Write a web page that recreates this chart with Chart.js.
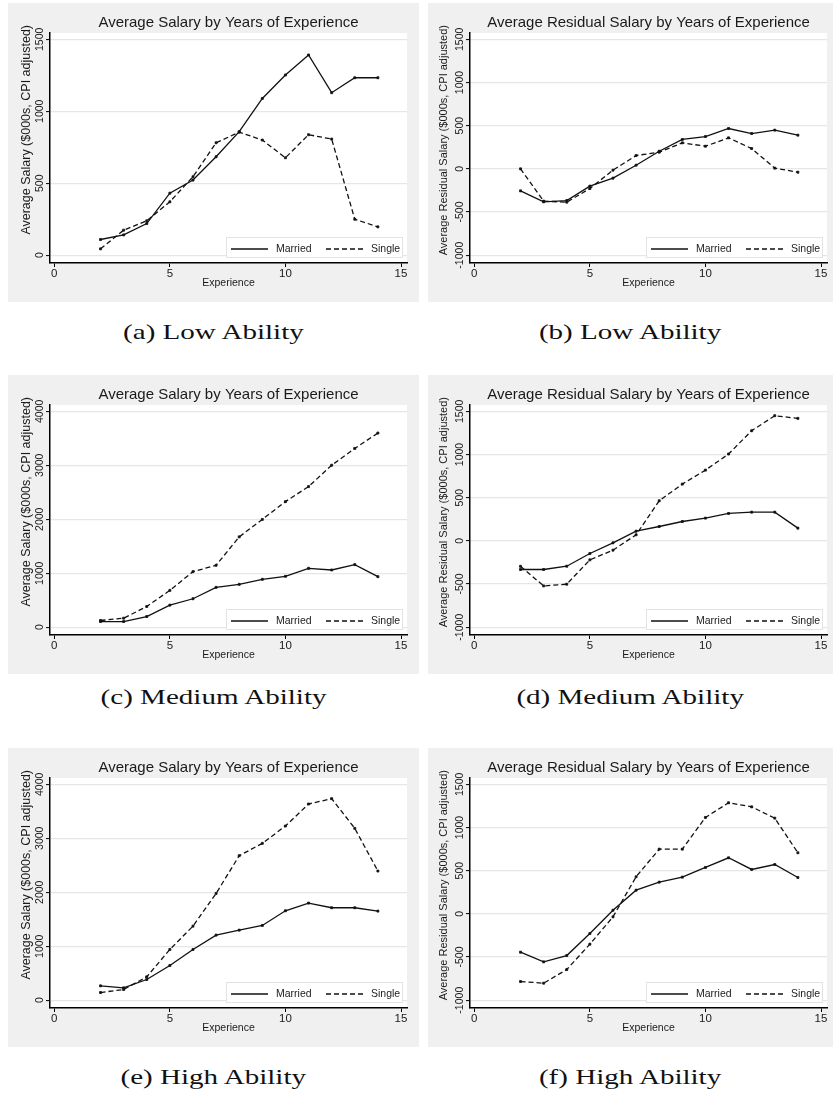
<!DOCTYPE html>
<html>
<head>
<meta charset="utf-8">
<script src="https://cdn.jsdelivr.net/npm/chart.js@4.4.1/dist/chart.umd.min.js"></script>
<style>
  body { margin: 0; background: #fff; width: 833px; height: 1093px; position: relative; overflow: hidden; }
  .panel { position: absolute; background: #f0f0f0; height: 299px; }
  .panel canvas { display: block; }
  .caption { position: absolute; height: 26px; line-height: 26px; text-align: center; white-space: nowrap;
             font-family: "Liberation Serif", "DejaVu Serif", serif; font-size: 22px; color: #111; }
  .caption span { display: inline-block; transform: scaleX(1.32); }
</style>
</head>
<body>

<div class="panel" style="left:8px;top:3px;width:411px"><canvas id="chartA" width="411" height="299"></canvas></div>
<div class="panel" style="left:428px;top:3px;width:405px"><canvas id="chartB" width="405" height="299"></canvas></div>
<div class="panel" style="left:8px;top:375px;width:411px"><canvas id="chartC" width="411" height="299"></canvas></div>
<div class="panel" style="left:428px;top:375px;width:405px"><canvas id="chartD" width="405" height="299"></canvas></div>
<div class="panel" style="left:8px;top:748px;width:411px"><canvas id="chartE" width="411" height="299"></canvas></div>
<div class="panel" style="left:428px;top:748px;width:405px"><canvas id="chartF" width="405" height="299"></canvas></div>

<div class="caption" style="left:8px;top:319px;width:411px"><span>(a) Low Ability</span></div>
<div class="caption" style="left:428px;top:319px;width:405px"><span>(b) Low Ability</span></div>
<div class="caption" style="left:8px;top:684px;width:411px"><span>(c) Medium Ability</span></div>
<div class="caption" style="left:428px;top:684px;width:405px"><span>(d) Medium Ability</span></div>
<div class="caption" style="left:8px;top:1064px;width:411px"><span>(e) High Ability</span></div>
<div class="caption" style="left:428px;top:1064px;width:405px"><span>(f) High Ability</span></div>

<script>
// --- data ---
const experience = [2, 3, 4, 5, 6, 7, 8, 9, 10, 11, 12, 13, 14];
const xTicks = [0, 5, 10, 15];
const seriesLabels = ['Married', 'Single'];

// (a) low ability, salary
const lowSalaryMarried = [109, 141, 220, 431, 522, 684, 858, 1089, 1252, 1391, 1129, 1233, 1233];
const lowSalarySingle  = [44, 174, 239, 371, 545, 781, 855, 800, 677, 837, 807, 250, 197];
// (b) low ability, residual salary
const lowResidMarried = [-255, -382, -367, -200, -108, 42, 204, 340, 374, 467, 409, 448, 390];
const lowResidSingle  = [0, -374, -386, -228, -15, 154, 193, 301, 262, 359, 235, 8, -39];
// (c) medium ability, salary
const medSalaryMarried = [105, 105, 198, 409, 527, 738, 794, 887, 943, 1091, 1060, 1160, 936];
const medSalarySingle  = [124, 167, 384, 682, 1029, 1147, 1674, 1997, 2326, 2605, 3001, 3312, 3597];
// (d) medium ability, residual salary
const medResidMarried = [-332, -332, -294, -147, -23, 112, 166, 224, 263, 317, 332, 332, 147];
const medResidSingle  = [-295, -522, -502, -220, -108, 70, 464, 657, 819, 1005, 1275, 1449, 1418];
// (e) high ability, salary
const highSalaryMarried = [266, 229, 383, 643, 940, 1206, 1298, 1385, 1657, 1799, 1713, 1713, 1651];
const highSalarySingle  = [142, 198, 433, 940, 1372, 1978, 2677, 2906, 3227, 3635, 3734, 3184, 2393];
// (f) high ability, residual salary
const highResidMarried = [-444, -556, -483, -228, 42, 274, 367, 425, 537, 649, 514, 571, 421];
const highResidSingle  = [-784, -803, -645, -351, -35, 429, 749, 749, 1116, 1286, 1239, 1108, 707];

const salaryTicksLow  = [0, 500, 1000, 1500];
const salaryTicksHigh = [0, 1000, 2000, 3000, 4000];
const residTicks      = [-1000, -500, 0, 500, 1000, 1500];

const titleSalary  = 'Average Salary by Years of Experience';
const titleResid   = 'Average Residual Salary by Years of Experience';
const yTitleSalary = 'Average Salary ($000s, CPI adjusted)';
const yTitleResid  = 'Average Residual Salary ($000s, CPI adjusted)';

// --- styling ---
const FONT = '"Liberation Sans", Arial, sans-serif';
const TEXT = '#1a1a1a';
const Y_TICK_SIZE = 10.5;

// white plot region like Stata's
const plotBg = {
  id: 'plotBg',
  beforeDraw(chart) {
    const { ctx, chartArea: a } = chart;
    ctx.save();
    ctx.fillStyle = '#fff';
    ctx.fillRect(a.left, a.top, a.right - a.left, a.bottom - a.top);
    ctx.restore();
  }
};

// legend box sitting inside the plot, bottom right
const boxLegend = {
  id: 'boxLegend',
  afterDatasetsDraw(chart) {
    const { ctx, chartArea: a } = chart;
    const w = 177, h = 21;
    const x = a.right - 4 - w, y = a.bottom - 5 - h;
    ctx.save();
    ctx.fillStyle = '#fff';
    ctx.fillRect(x, y, w, h);
    ctx.strokeStyle = '#e3e3e3';
    ctx.lineWidth = 1;
    ctx.strokeRect(x + 0.5, y + 0.5, w - 1, h - 1);
    const cy = y + 12;
    ctx.font = '10.5px ' + FONT;
    ctx.fillStyle = TEXT;
    ctx.textBaseline = 'middle';
    chart.data.datasets.forEach((ds, i) => {
      const lx = x + 5 + i * 95;
      ctx.setLineDash(ds.borderDash || []);
      ctx.strokeStyle = ds.borderColor;
      ctx.lineWidth = ds.borderWidth;
      ctx.beginPath();
      ctx.moveTo(lx, cy);
      ctx.lineTo(lx + 37, cy);
      ctx.stroke();
      ctx.setLineDash([]);
      ctx.fillText(ds.label, lx + 45, cy);
    });
    ctx.restore();
  }
};

// Stata puts the y title flush with the top of the plot, not centred on it
const yTitle = {
  id: 'yTitle',
  afterDraw(chart, args, opts) {
    const { ctx, chartArea: a } = chart;
    ctx.save();
    ctx.translate(opts.x, a.top - 8);
    ctx.rotate(-Math.PI / 2);
    ctx.font = opts.size + 'px ' + FONT;
    ctx.fillStyle = TEXT;
    ctx.textAlign = 'right';
    ctx.textBaseline = 'middle';
    ctx.fillText(opts.text, 0, 0);
    ctx.restore();
  }
};

// padding that puts the rotated y labels ~10px left of the axis
function yTickPad(ticks) {
  const c = document.createElement('canvas').getContext('2d');
  c.font = Y_TICK_SIZE + 'px ' + FONT;
  const widest = Math.max(...ticks.map(t => c.measureText(String(t)).width));
  return 6 - widest / 2;
}

function series(label, xs, ys, dash) {
  return {
    label: label,
    data: xs.map((x, i) => ({ x: x, y: ys[i] })),
    borderColor: '#111',
    borderWidth: 1.3,
    borderDash: dash,
    tension: 0,
    pointStyle: 'rect',
    pointRadius: 1.4,
    pointBorderWidth: 0.8,
    pointBackgroundColor: '#111',
    pointBorderColor: '#111'
  };
}

function makeChart(id, width, title, yTitleText, yTitleSize, yTitleX, yTicks, married, single) {
  const lo = yTicks[0], hi = yTicks[yTicks.length - 1];
  const perPx = (hi - lo) / 215.9;
  const perPxX = 15 / 346.7;
  return new Chart(document.getElementById(id), {
    type: 'line',
    data: {
      datasets: [
        series(seriesLabels[0], experience, married, []),
        series(seriesLabels[1], experience, single, [5, 3])
      ]
    },
    options: {
      responsive: false,
      animation: false,
      layout: { padding: { left: 0, right: width - 399, top: 0, bottom: 0 } },
      plugins: {
        legend: { display: false },
        tooltip: { enabled: false },
        title: {
          display: true, text: title, fullSize: false, color: TEXT,
          font: { family: FONT, size: 15, weight: 'normal', lineHeight: 1.2 },
          padding: { top: 11, bottom: 1 }
        },
        yTitle: { text: yTitleText, size: yTitleSize, x: yTitleX }
      },
      scales: {
        x: {
          type: 'linear',
          min: -4.3 * perPxX,
          max: 15 + 6 * perPxX,
          afterBuildTicks: s => { s.ticks = xTicks.map(v => ({ value: v })); },
          afterFit: s => { s.height = 39; },
          grid: { drawOnChartArea: false, drawTicks: true, tickLength: 4, tickColor: '#000', tickWidth: 1 },
          border: { color: '#000', width: 1.5 },
          ticks: {
            color: TEXT, padding: 0, maxRotation: 0, autoSkip: false,
            font: { family: FONT, size: 11.5 },
            callback: v => String(v)
          },
          title: {
            display: true, text: 'Experience', color: TEXT,
            font: { family: FONT, size: 10.5, lineHeight: 1.2 },
            padding: { top: 0, bottom: 12.7 }
          }
        },
        y: {
          min: lo - 7.8 * perPx,
          max: hi + 6.3 * perPx,
          afterBuildTicks: s => { s.ticks = yTicks.map(v => ({ value: v })); },
          afterFit: s => { s.width = 42; },
          grid: { color: '#e6e6e6', lineWidth: 1.2, tickLength: 4, tickColor: '#000', tickWidth: 1 },
          border: { color: '#000', width: 1.5 },
          ticks: {
            color: TEXT, minRotation: 90, maxRotation: 90, crossAlign: 'center',
            padding: yTickPad(yTicks), autoSkip: false,
            font: { family: FONT, size: Y_TICK_SIZE },
            callback: v => String(v)
          }
        }
      }
    },
    plugins: [plotBg, boxLegend, yTitle]
  });
}

makeChart('chartA', 411, titleSalary, yTitleSalary, 12.5, 19, salaryTicksLow, lowSalaryMarried, lowSalarySingle);
makeChart('chartB', 405, titleResid, yTitleResid, 11, 16, residTicks, lowResidMarried, lowResidSingle);
makeChart('chartC', 411, titleSalary, yTitleSalary, 12.5, 19, salaryTicksHigh, medSalaryMarried, medSalarySingle);
makeChart('chartD', 405, titleResid, yTitleResid, 11, 16, residTicks, medResidMarried, medResidSingle);
makeChart('chartE', 411, titleSalary, yTitleSalary, 12.5, 19, salaryTicksHigh, highSalaryMarried, highSalarySingle);
makeChart('chartF', 405, titleResid, yTitleResid, 11, 16, residTicks, highResidMarried, highResidSingle);
</script>
</body>
</html>
